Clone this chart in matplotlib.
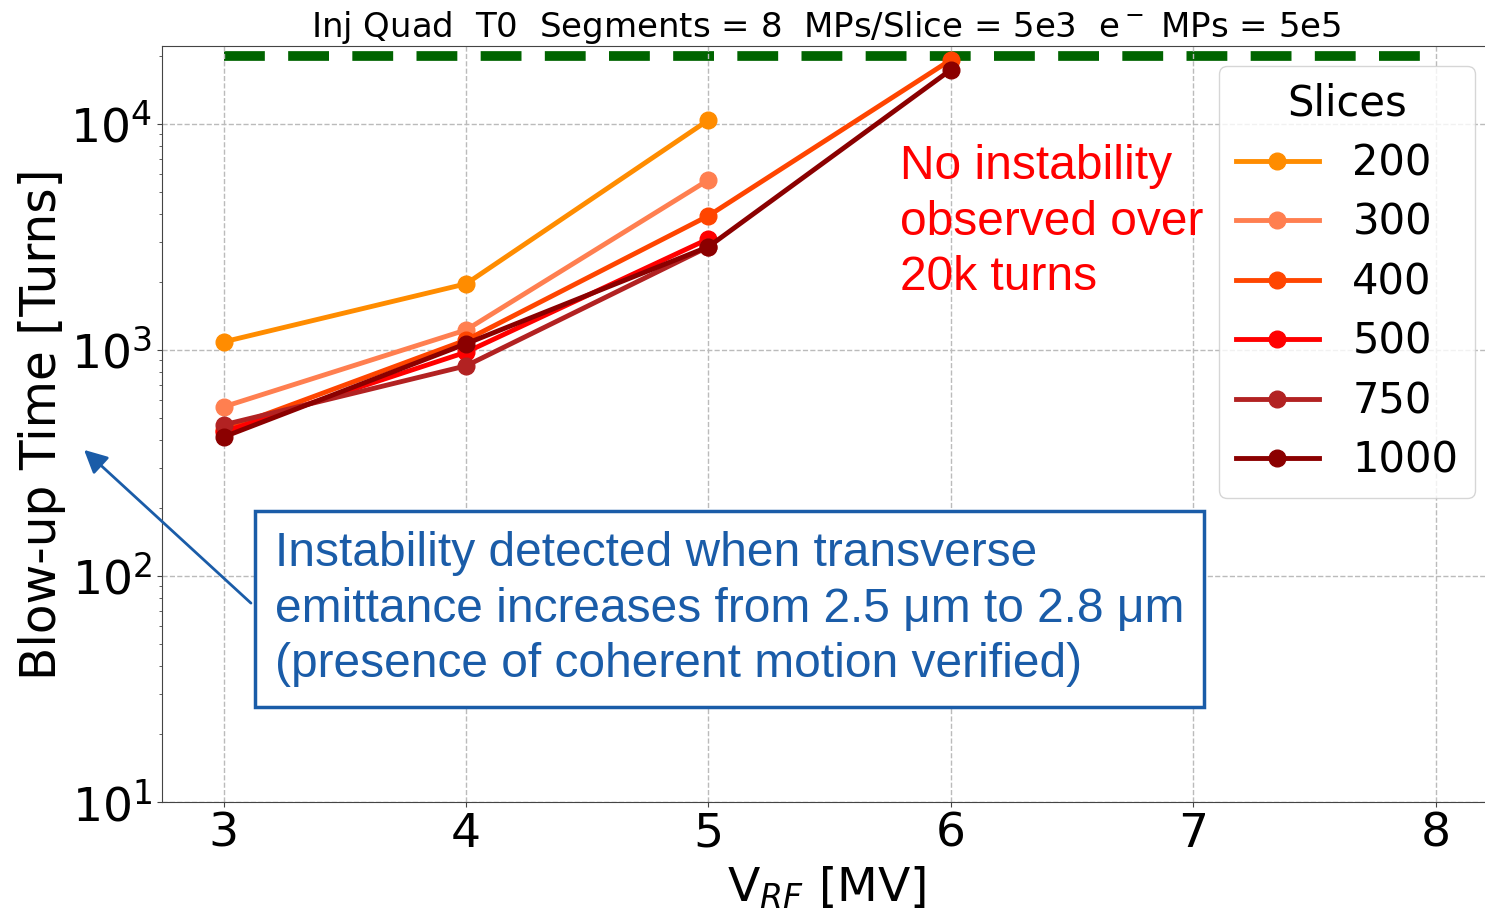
import numpy as np
import matplotlib
matplotlib.use('Agg')
import matplotlib.pyplot as plt
from matplotlib.patches import FancyArrowPatch

# RF voltage scan, blow-up time for different number of slices
v_rf = [3, 4, 5, 6]
slices = ['200', '300', '400', '500', '750', '1000']
colors = ['darkorange', 'coral', 'orangered', 'red', 'firebrick', 'darkred']
blowup = {
    '200': [1085, 1960, 10400],
    '300': [560, 1225, 5650],
    '400': [443, 1105, 3920, 19200],
    '500': [434, 977, 3100],
    '750': [466, 850, 2860],
    '1000': [412, 1065, 2860, 17350],
}
max_turns = 20000

fig = plt.figure(figsize=(14.85, 9.11), dpi=100)
ax = fig.add_axes([0.109, 0.1197, 0.895, 0.8298])

# limit of simulated turns
ax.plot([3, 8], [max_turns, max_turns], color='darkgreen', lw=7,
        dashes=(4.2, 2.4), zorder=1)

for s, c in zip(slices, colors):
    y = blowup[s]
    ax.plot(v_rf[:len(y)], y, '-o', color=c, lw=3.5, ms=12, label=s, zorder=2)

ax.set_yscale('log')
ax.set_ylim(10, 22100)
ax.set_xlim(2.745, 8.228)
ax.set_xticks([3, 4, 5, 6, 7, 8])
ax.tick_params(labelsize=34, colors='black')
ax.tick_params(which='both', color='#444444')
ax.grid(True, which='major', ls='--', color='#bbbbbb', lw=1)
for sp in ['left', 'bottom', 'top']:
    ax.spines[sp].set_color('#444444')
ax.spines['right'].set_visible(False)

ax.set_xlabel('V$_{RF}$ [MV]', fontsize=34, labelpad=6)
ax.set_ylabel('Blow-up Time [Turns]', fontsize=35, labelpad=3)
ax.set_title(r'Inj Quad  T0  Segments = 8  MPs/Slice = 5e3  e$^-$ MPs = 5e5',
             fontsize=24.5, pad=6)

leg = ax.legend(title='Slices', fontsize=30, title_fontsize=30,
                loc='upper right', bbox_to_anchor=(0.988, 0.9735),
                borderaxespad=0, handlelength=2.0, labelspacing=0.42,
                borderpad=0.4)

ax.text(0.555, 0.87, 'No instability\nobserved over\n20k turns',
        transform=ax.transAxes, color='red', fontsize=34.5,
        family='Liberation Sans', va='top', ha='left', linespacing=1.3)

ax.text(0.085, 0.358,
        'Instability detected when transverse\n'
        'emittance increases from 2.5 μm to 2.8 μm\n'
        '(presence of coherent motion verified)',
        transform=ax.transAxes, color='#1a5ca8', fontsize=34.5,
        family='Liberation Sans', va='top', ha='left', linespacing=1.3,
        bbox=dict(boxstyle='square,pad=0.42', fc='white', ec='#1a5ca8', lw=2.5))

arrow = FancyArrowPatch((253 / 1485, 1 - 605 / 911), (82 / 1485, 1 - 448 / 911),
                        transform=fig.transFigure, arrowstyle='-|>',
                        mutation_scale=35, color='#1a5ca8', lw=2)
fig.patches.append(arrow)

fig.savefig('out.png', dpi=100)
